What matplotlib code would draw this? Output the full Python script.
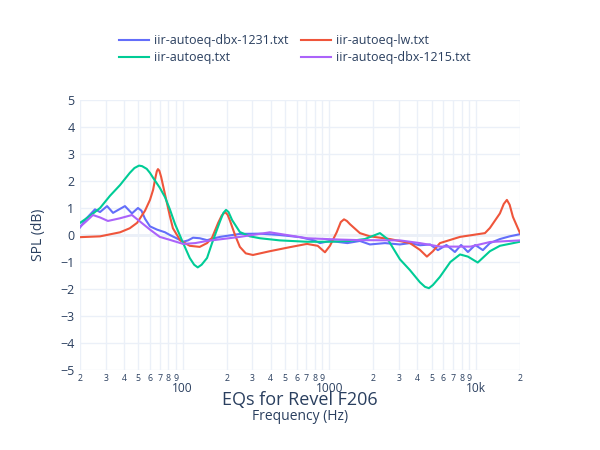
import matplotlib.pyplot as plt

# Frequenser (Hz) og SPL (dB)
f_dbx1231 = [20, 22, 25.3, 27.4, 30.6, 33.6, 37, 40.5, 45.2, 49.7, 52.5, 55.5, 60, 67, 76, 82, 91, 101,
             109, 118, 131, 147, 180, 246, 337, 461, 632, 788, 865, 1012, 1330, 1620, 1895,
             2400, 3036, 3552, 4156, 4880, 5510, 6300, 7200, 7930, 8830, 9900, 11170, 12470,
             14590, 17000, 20000]
spl_dbx1231 = [0.28, 0.6, 0.95, 0.85, 1.07, 0.82, 0.95, 1.07, 0.8, 1.0, 0.9, 0.6, 0.32, 0.2, 0.1, 0.0, -0.12,
               -0.25, -0.2, -0.1, -0.12, -0.19, -0.07, 0.04, 0.05, 0.0, -0.08, -0.2, -0.3, -0.22,
               -0.3, -0.22, -0.35, -0.3, -0.35, -0.3, -0.38, -0.35, -0.56, -0.37, -0.63, -0.37,
               -0.63, -0.37, -0.56, -0.3, -0.15, -0.05, 0.03]

f_lw = [20, 27.4, 37.5, 43.7, 49, 55.5, 60, 63, 65.5, 66.8, 68, 69.5, 71.5, 76, 82, 86, 96.5, 112, 131,
        147, 159, 175, 185, 195, 203, 211, 228, 246, 270, 302, 394, 540, 705, 835, 936, 1012, 1125,
        1200, 1262, 1320, 1386, 1620, 1895, 2595, 3552, 4156, 4637, 5100, 5690, 7800, 11540, 12470,
        14590, 15500, 16280, 17000, 17900, 20000]
spl_lw = [-0.08, -0.05, 0.1, 0.25, 0.45, 0.9, 1.3, 1.67, 2.15, 2.36, 2.44, 2.38, 2.15, 1.5, 0.7, 0.25,
          -0.2, -0.4, -0.44, -0.3, -0.1, 0.45, 0.72, 0.85, 0.75, 0.52, 0.0, -0.44, -0.68, -0.74, -0.6,
          -0.45, -0.33, -0.4, -0.64, -0.4, 0.1, 0.48, 0.58, 0.52, 0.4, 0.07, -0.05, -0.15, -0.3, -0.55,
          -0.8, -0.6, -0.3, -0.07, 0.07, 0.26, 0.8, 1.15, 1.3, 1.12, 0.67, 0.07]

f_autoeq = [20, 23.3, 27.4, 32, 37.5, 43.7, 47, 50.5, 53, 57, 60, 63, 70, 76, 82, 89, 101, 112, 120,
            127, 135, 147, 159, 180, 190, 198, 206, 218, 246, 288, 337, 461, 705, 1012, 1386, 1750,
            2218, 2500, 3036, 3552, 4156, 4500, 4786, 5100, 5690, 6700, 7800, 8830, 10300, 12470,
            14590, 20000]
spl_autoeq = [0.45, 0.7, 1.0, 1.45, 1.85, 2.3, 2.48, 2.57, 2.55, 2.45, 2.3, 2.12, 1.75, 1.4, 0.95,
              0.4, -0.3, -0.85, -1.1, -1.2, -1.1, -0.85, -0.3, 0.5, 0.82, 0.93, 0.85, 0.55, 0.11,
              -0.05, -0.12, -0.2, -0.25, -0.25, -0.22, -0.15, 0.07, -0.15, -0.9, -1.3, -1.75, -1.92,
              -1.97, -1.85, -1.55, -1.0, -0.72, -0.8, -1.02, -0.6, -0.4, -0.25]

f_dbx1215 = [20, 22, 24.5, 27.4, 31, 37.5, 45.2, 52.9, 60, 70, 82, 101, 122, 147, 246, 394, 705,
             1185, 1620, 3036, 4156, 5690, 9200, 12470, 20000]
spl_dbx1215 = [0.3, 0.5, 0.74, 0.65, 0.52, 0.62, 0.74, 0.44, 0.2, -0.07, -0.18, -0.33, -0.3, -0.22,
               -0.07, 0.1, -0.12, -0.17, -0.19, -0.2, -0.3, -0.43, -0.43, -0.26, -0.2]

tekst = "#2a3f5f"
grid = "#ebf0f8"
plt.rcParams['font.family'] = ['Open Sans', 'DejaVu Sans']

fig = plt.figure(figsize=(6, 4.5), dpi=100)
ax = fig.add_axes([80/600, 80/450, 440/600, 270/450])

l1, = ax.plot(f_dbx1231, spl_dbx1231, color="#636efa", lw=1.5)
l2, = ax.plot(f_lw, spl_lw, color="#EF553B", lw=1.5)
l3, = ax.plot(f_autoeq, spl_autoeq, color="#00cc96", lw=1.5)
l4, = ax.plot(f_dbx1215, spl_dbx1215, color="#ab63fa", lw=1.5)

ax.set_xscale("log")
ax.set_xlim(20, 20000)
ax.set_ylim(-5, 5)

major = [100, 1000, 10000]
minor = [m * d for d in [10, 100, 1000] for m in range(2, 10)] + [20000]
ax.set_xticks(major, ["100", "1000", "10k"])
ax.set_xticks(minor, [str(m)[0] for m in minor], minor=True)
ax.set_yticks(range(-5, 6))
ax.set_yticklabels([str(v).replace("-", "\u2212") for v in range(-5, 6)])

ax.tick_params(axis="x", which="major", length=0, pad=8.5, labelsize=8.6, labelcolor=tekst)
ax.tick_params(axis="x", which="minor", length=0, pad=3, labelsize=6.3, labelcolor=tekst)
ax.tick_params(axis="y", length=0, pad=4, labelsize=9, labelcolor=tekst)

ax.grid(True, which="both", color=grid, lw=1)
ax.axhline(0, color=grid, lw=2, zorder=0.5)
ax.set_axisbelow(True)
for s in ax.spines.values():
    s.set_visible(False)

ax.set_ylabel("SPL (dB)", fontsize=10, color=tekst, labelpad=10)
fig.text(0.5, 1 - 400/450, "EQs for Revel F206", ha="center", va="center", fontsize=13, color=tekst)
fig.text(0.5, 1 - 416/450, "Frequency (Hz)", ha="center", va="center", fontsize=10, color=tekst)

fig.legend([l1, l3, l2, l4],
           ["iir-autoeq-dbx-1231.txt", "iir-autoeq.txt", "iir-autoeq-lw.txt", "iir-autoeq-dbx-1215.txt"],
           loc="upper left", bbox_to_anchor=(108/600, 1 - 23/450), ncol=2, frameon=False,
           fontsize=9, labelcolor=tekst, handlelength=2.4, handletextpad=0.4,
           columnspacing=1.0, labelspacing=0.3)

plt.savefig("out.png", dpi=100)
